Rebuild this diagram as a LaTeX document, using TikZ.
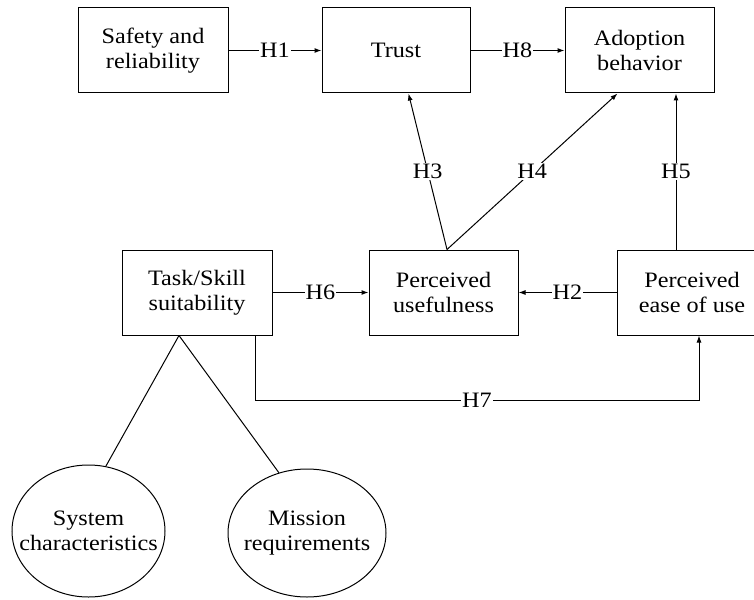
\documentclass[tikz,border=0pt]{standalone}
\usepackage{fontspec}
\setmainfont{Liberation Serif}
\newfontfamily\tnr{Liberation Serif}[FakeStretch=1.1]
\usetikzlibrary{arrows.meta,calc,shapes.geometric}
\begin{document}
\begin{tikzpicture}[x=1pt,y=-1pt,
  font=\tnr\fontsize{22}{25}\selectfont,
  box/.style={draw,line width=1pt,minimum width=150pt,minimum height=85pt,inner sep=0pt,align=center},
  oval/.style={draw,line width=1pt,ellipse,inner sep=0pt},
  txt/.style={inner sep=0pt,align=center},
  conn/.style={line width=1pt},
  arr/.style={line width=1pt,-{Latex[length=7pt,width=5pt]}},
  lab/.style={fill=white,inner sep=1pt}]
\useasboundingbox (0,0) rectangle (754,599);
\clip (0,0) rectangle (754,599);
\node[box] (safety) at (153,50.5) {Safety and\\reliability};
\node[box,minimum width=148pt] (trust) at (396,50.5) {Trust};
\node[box,minimum width=149pt] (adopt) at (639.5,50.5) {Adoption\\behavior};
\node[box] (task) at (197,292.5) {Task/Skill\\suitability};
\node[box,minimum width=149pt] (pu) at (443.5,292.5) {Perceived\\usefulness};
\node[box] (peou) at (692,292.5) {Perceived\\ease of use};
\node[oval,minimum width=153pt,minimum height=132pt] (sys) at (88.5,531) {};
\node[txt] (systxt) at (sys.center) {System\\characteristics};
\node[oval,minimum width=158pt,minimum height=128pt] (mis) at (307,533) {};
\node[txt] (mistxt) at (mis.center) {Mission\\requirements};
\coordinate (apex) at ($(task.south)+(-18,0)$);
\coordinate (pus) at ($(pu.north)+(3.5,0)$);
\coordinate (trs) at ($(trust.south)+(12.5,0)$);
\coordinate (ads) at ($(adopt.south)+(-22,0)$);
\coordinate (h5s) at ($(peou.north)+(-16,0)$);
\coordinate (h7s) at ($(task.south)+(58,0)$);
\coordinate (h7e) at ($(peou.south)+(7,0)$);
\draw[arr] (safety) -- node[lab] {H1} (trust);
\draw[arr] (trust) -- node[lab] {H8} (adopt);
\draw[arr] (task) -- node[lab] {H6} (pu);
\draw[arr] (peou) -- node[lab] {H2} (pu);
\draw[arr] (pus) -- node[lab] {H3} (trs);
\draw[arr] (pus) -- node[lab] {H4} (ads);
\draw[arr] (h5s) -- node[lab] {H5} (h5s |- ads);
\draw[arr] (h7s) -- ++(0,65) -| node[lab,pos=0.25] {H7} (h7e);
\draw[conn] (apex) -- (sys.75);
\draw[conn] (apex) -- (mis.115);
\end{tikzpicture}
\end{document}
